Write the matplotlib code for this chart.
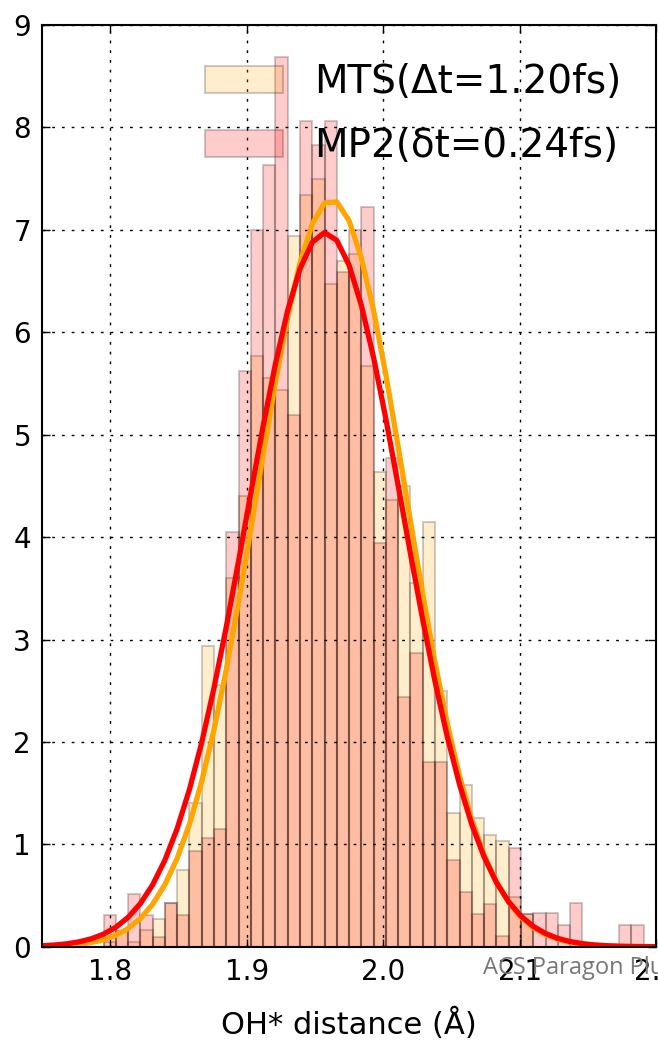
import matplotlib

matplotlib.use("Agg")
import matplotlib.pyplot as plt
import numpy as np

# histogram bins shared by both runs (density-normalised heights read per bin)
BIN_LO = 1.75
BIN_HI = 2.2
N_BINS = 50

# bins 0-4 and 49 are empty; heights below start at bin 5 (1.795)
mts_heights = [
    0, 0, 0, 0, 0,
    0.05, 0.15, 0.05, 0.16, 0.27, 0.43, 0.75, 1.40, 2.94, 2.56,
    3.60, 4.40, 5.77, 5.55, 5.44, 6.94, 7.34, 7.50, 6.47, 6.70,
    6.76, 5.67, 4.64, 4.36, 4.50, 3.55, 4.15, 2.50, 1.31, 1.58,
    1.26, 1.09, 1.03, 0.49, 0.32, 0, 0, 0, 0, 0,
    0, 0, 0, 0, 0,
]
mp2_heights = [
    0, 0, 0, 0, 0,
    0.31, 0.15, 0.52, 0.31, 0.10, 0.43, 0.31, 0.94, 1.06, 1.15,
    4.05, 5.62, 7.00, 7.63, 8.69, 5.19, 8.06, 7.83, 8.06, 6.59,
    7.00, 7.22, 3.94, 4.77, 2.44, 2.87, 1.80, 1.80, 0.85, 0.53,
    0.32, 0.42, 0.11, 0.96, 0.32, 0.33, 0.33, 0.21, 0.43, 0,
    0, 0, 0.21, 0.21, 0,
]

# gaussian fits (mean, sigma)
mts_fit = (1.962, 0.0547)
mp2_fit = (1.9575, 0.0572)

mts_label = "MTS(\u0394t=1.20fs)"
mp2_label = "MP2(\u03b4t=0.24fs)"

x_ticks = [1.8, 1.9, 2.0, 2.1, 2.2]
y_ticks = list(range(0, 10))


def normpdf(x, mu, sigma):
    return np.exp(-0.5 * ((x - mu) / sigma) ** 2) / (sigma * np.sqrt(2 * np.pi))


def main():
    plt.rcParams["font.family"] = ["DejaVu Sans"]
    plt.rcParams["xtick.direction"] = "in"
    plt.rcParams["ytick.direction"] = "in"
    plt.rcParams["xtick.top"] = True
    plt.rcParams["ytick.right"] = True

    bins = np.linspace(BIN_LO, BIN_HI, N_BINS + 1)
    centers = 0.5 * (bins[:-1] + bins[1:])

    fig = plt.figure(figsize=(6.58, 10.45), dpi=100)
    ax = fig.add_axes([0.064, 0.094, 0.933, 0.882])

    ax.hist(centers, bins=bins, weights=mts_heights, color="orange", alpha=0.2,
            edgecolor="k", linewidth=1.5, label=mts_label)
    ax.hist(centers, bins=bins, weights=mp2_heights, color="red", alpha=0.2,
            edgecolor="k", linewidth=1.5, label=mp2_label)

    ax.plot(bins, normpdf(bins, *mts_fit), color="orange", lw=3.8)
    ax.plot(bins, normpdf(bins, *mp2_fit), color="red", lw=3.8)

    ax.set_xlim(1.75, 2.2)
    ax.set_ylim(0, 9)
    ax.set_xticks(x_ticks)
    ax.set_xticklabels([f"{t:.1f}" for t in x_ticks])
    ax.set_yticks(y_ticks)
    ax.tick_params(labelsize=20, length=6, width=1, pad=8)
    ax.grid(True, color="k", linestyle=(0, (2, 5)), linewidth=1)
    for sp in ax.spines.values():
        sp.set_linewidth(1.5)

    ax.set_xlabel("OH* distance (\u00c5)", fontsize=22, labelpad=16)
    ax.legend(loc="upper right", frameon=False, fontsize=28,
              handlelength=2.0, handleheight=0.7, handletextpad=0.8,
              labelspacing=0.68, bbox_to_anchor=(1.0, 0.997))

    # journal watermark sitting over the bottom-right tick labels
    fig.text(0.734, 0.074, "ACS Paragon Plus", fontsize=17, color="#777777",
             family=["Open Sans", "DejaVu Sans"], va="center", ha="left")

    fig.savefig("out.png", dpi=100)
    plt.close(fig)


if __name__ == "__main__":
    main()
